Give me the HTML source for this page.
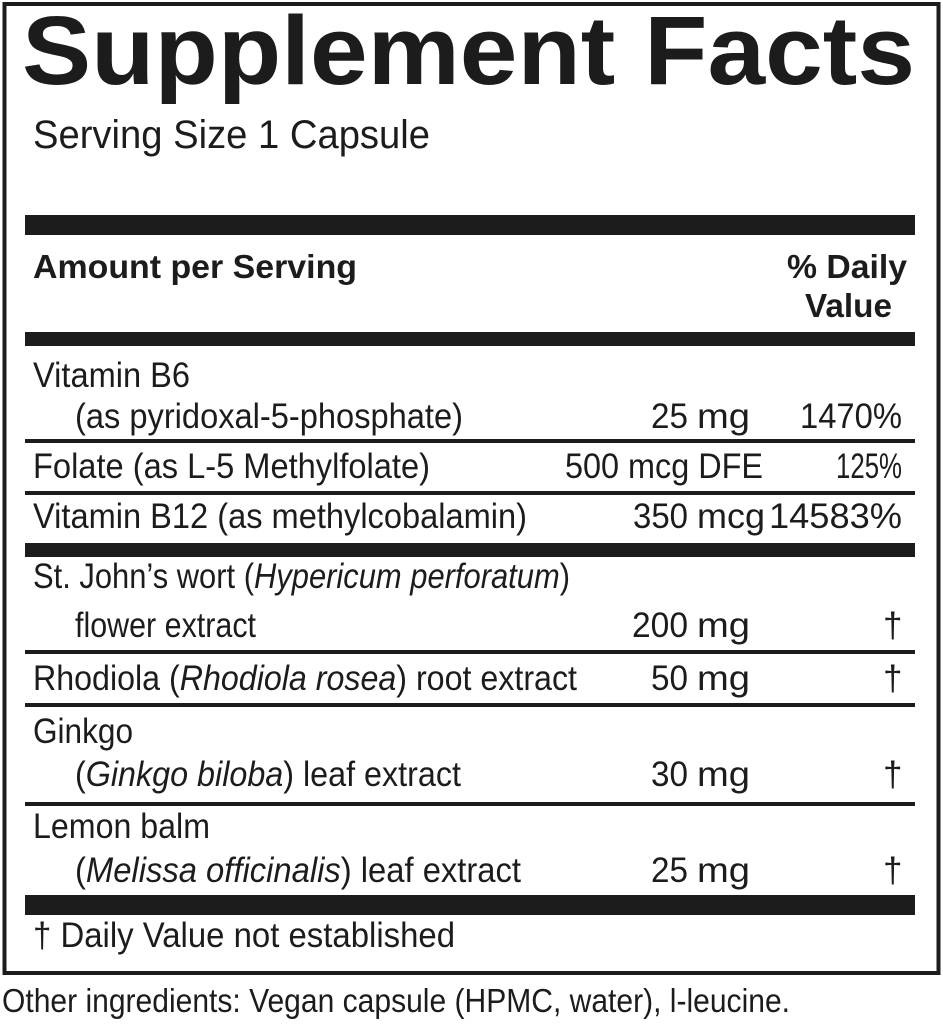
<!DOCTYPE html>
<html><head><meta charset="utf-8"><style>
html,body{margin:0;padding:0;background:#fff;}
svg{display:block;}
text{font-family:"Liberation Sans",sans-serif;fill:#1c1c1c;}
</style></head><body>
<svg width="943" height="1024" viewBox="0 0 943 1024" xmlns="http://www.w3.org/2000/svg">
<rect x="0" y="0" width="943" height="1024" fill="#fff"/>
<rect x="4.5" y="4" width="934" height="969" fill="none" stroke="#1c1c1c" stroke-width="4"/>
<text x="22" y="84" font-size="97" font-weight="bold" textLength="893" lengthAdjust="spacingAndGlyphs">Supplement Facts</text>
<text x="33" y="148" font-size="40" textLength="397" lengthAdjust="spacingAndGlyphs">Serving Size 1 Capsule</text>
<g fill="#1c1c1c">
<rect x="25" y="215" width="890" height="20"/>
<rect x="25" y="332" width="890" height="14"/>
<rect x="25" y="439" width="890" height="4"/>
<rect x="25" y="491" width="890" height="4"/>
<rect x="25" y="543" width="890" height="14"/>
<rect x="25" y="650" width="890" height="4"/>
<rect x="25" y="703" width="890" height="4"/>
<rect x="25" y="802" width="890" height="4"/>
<rect x="25" y="895" width="890" height="20"/>
</g>
<g font-weight="bold" font-size="33">
<text x="33" y="278" textLength="324" lengthAdjust="spacingAndGlyphs">Amount per Serving</text>
<text x="787" y="278" textLength="120" lengthAdjust="spacingAndGlyphs">% Daily</text>
<text x="805" y="317" textLength="87" lengthAdjust="spacingAndGlyphs">Value</text>
</g>
<g font-size="35">
<text x="33" y="387" textLength="157" lengthAdjust="spacingAndGlyphs">Vitamin B6</text>
<text x="75" y="428" textLength="388" lengthAdjust="spacingAndGlyphs">(as pyridoxal-5-phosphate)</text>
<text x="651" y="428" textLength="37" lengthAdjust="spacingAndGlyphs">25</text>
<text x="697" y="428" textLength="53" lengthAdjust="spacingAndGlyphs">mg</text>
<text x="800" y="428" textLength="102" lengthAdjust="spacingAndGlyphs">1470%</text>

<text x="33" y="478" textLength="397" lengthAdjust="spacingAndGlyphs">Folate (as L-5 Methylfolate)</text>
<text x="565" y="478" textLength="198" lengthAdjust="spacingAndGlyphs">500 mcg DFE</text>
<text x="836" y="478" textLength="66" lengthAdjust="spacingAndGlyphs">125%</text>

<text x="33" y="528" textLength="494" lengthAdjust="spacingAndGlyphs">Vitamin B12 (as methylcobalamin)</text>
<text x="633" y="528" textLength="55" lengthAdjust="spacingAndGlyphs">350</text>
<text x="697" y="528" textLength="68" lengthAdjust="spacingAndGlyphs">mcg</text>
<text x="769" y="528" textLength="133" lengthAdjust="spacingAndGlyphs">14583%</text>

<text x="33" y="588" textLength="537" lengthAdjust="spacingAndGlyphs">St. John’s wort (<tspan font-style="italic">Hypericum perforatum</tspan>)</text>
<text x="75" y="637" textLength="181" lengthAdjust="spacingAndGlyphs">flower extract</text>
<text x="632" y="637" textLength="56" lengthAdjust="spacingAndGlyphs">200</text>
<text x="697" y="637" textLength="53" lengthAdjust="spacingAndGlyphs">mg</text>
<text x="883" y="637">†</text>

<text x="33" y="690" textLength="544" lengthAdjust="spacingAndGlyphs">Rhodiola (<tspan font-style="italic">Rhodiola rosea</tspan>) root extract</text>
<text x="651" y="690" textLength="37" lengthAdjust="spacingAndGlyphs">50</text>
<text x="697" y="690" textLength="53" lengthAdjust="spacingAndGlyphs">mg</text>
<text x="883" y="690">†</text>

<text x="33" y="743" textLength="100" lengthAdjust="spacingAndGlyphs">Ginkgo</text>
<text x="75" y="786" textLength="386" lengthAdjust="spacingAndGlyphs">(<tspan font-style="italic">Ginkgo biloba</tspan>) leaf extract</text>
<text x="651" y="786" textLength="37" lengthAdjust="spacingAndGlyphs">30</text>
<text x="697" y="786" textLength="53" lengthAdjust="spacingAndGlyphs">mg</text>
<text x="883" y="786">†</text>

<text x="33" y="838" textLength="177" lengthAdjust="spacingAndGlyphs">Lemon balm</text>
<text x="75" y="882" textLength="446" lengthAdjust="spacingAndGlyphs">(<tspan font-style="italic">Melissa officinalis</tspan>) leaf extract</text>
<text x="651" y="882" textLength="37" lengthAdjust="spacingAndGlyphs">25</text>
<text x="697" y="882" textLength="53" lengthAdjust="spacingAndGlyphs">mg</text>
<text x="883" y="882">†</text>

<text x="33" y="947" textLength="422" lengthAdjust="spacingAndGlyphs">† Daily Value not established</text>
</g>
<text x="2" y="1012" font-size="33" textLength="788" lengthAdjust="spacingAndGlyphs">Other ingredients: Vegan capsule (HPMC, water), l-leucine.</text>
</svg>
</body></html>
